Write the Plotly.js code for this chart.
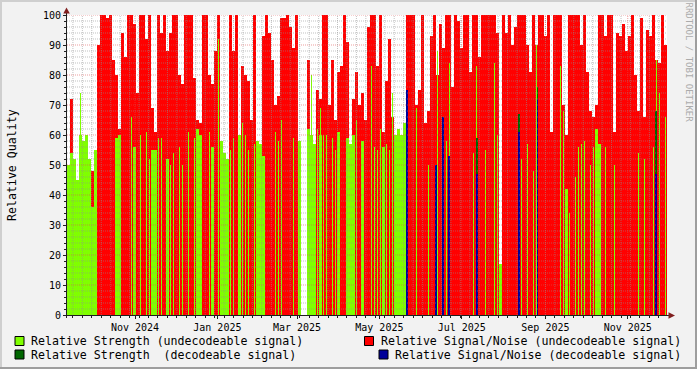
<!DOCTYPE html>
<html><head><meta charset="utf-8">
<script src="https://cdn.plot.ly/plotly-3.0.1.min.js"></script>
<style>html,body{margin:0;padding:0;background:#f2f2f2;}#chart{width:697px;height:369px;}</style>
</head><body><div id="chart"></div>
<script>
// ---- data (each bin = ~2.22 days, starting 2024-09-11 15:00) ----
const binStart = Date.UTC(2024, 8, 11, 15, 0);
const binDays = 2.2222;

// Relative Signal/Noise (undecodeable signal)
const snUndec = [
 0,72,0,0,0,0,0,0,48,0, 90,100,100,99,100,85,80,62,94,86,
 100,100,97,74,100,100,92,100,69,61, 100,94,100,88,94,100,100,80,77,100,
 100,100,79,65,64,100,100,80,77,88, 100,0,0,0,100,88,100,0,83,80,
 78,65,100,0,0,93,100,94,85,70, 73,99,99,100,96,89,100,0,null,null,
 85,0,0,75,72,100,100,70,85,65, 81,83,100,91,0,72,81,70,74,65,
 96,100,100,83,100,61,78,92,66,0, 0,0,0,100,100,100,70,75,100,64,
 68,93,100,80,97,89,100,100,76,100, 98,89,100,100,81,100,100,86,100,100,
 100,100,100,94,0,100,94,100,90,96, 100,100,100,90,81,100,90,100,100,93,
 100,61,100,100,100,70,60,100,100,100, 100,90,100,81,68,66,70,100,100,93,
 100,100,61,94,93,97,88,93,100,80, 68,99,66,95,93,100,85,84,100,90
];
// Relative Strength (undecodeable signal) – full-width part
const strengthUndec = [
 50,54,52,45,60,58,60,52,36,55, 0,0,0,0,0,0,59,60,0,0,
 0,0,56,0,0,0,0,0,55,55, 0,0,0,52,0,0,0,0,0,0,
 0,0,0,62,60,0,0,0,56,0, 0,58,54,52,0,0,0,60,0,0,
 0,0,0,58,57,53,0,0,0,0, 0,0,0,0,0,0,0,58,null,null,
 62,60,57,0,60,0,0,0,0,0, 61,0,0,59,57,60,0,0,58,0,
 0,0,0,0,0,56,0,0,0,60, 62,60,64,0,0,0,0,0,0,0,
 0,0,0,0,0,0,0,0,0,0, 0,0,0,0,0,0,0,0,0,0,
 0,0,0,0,17,0,0,0,0,0, 0,0,0,0,0,0,0,0,0,0,
 0,0,0,0,0,0,42,0,0,0, 0,0,0,0,0,0,62,57,0,0,
 0,0,0,0,0,0,0,0,0,0, 0,0,0,0,0,0,0,0,0,0
];
// Relative Strength (undecodeable signal) – thin single-sample columns
const strengthLines = [
 0,0,0,0,74,0,0,0,0,0, 0,0,0,0,0,0,0,0,0,0,
 0,66,0,0,60,0,61,52,0,0, 59,59,0,0,50,54,0,56,50,0,
 61,0,59,0,0,0,0,61,0,0, 92,0,0,0,55,59,0,0,64,60,
 55,0,57,0,0,0,0,0,0,61, 58,65,0,0,0,59,0,0,null,null,
 0,80,0,62,69,60,60,0,59,55, 0,0,0,0,0,0,65,0,0,0,
 0,83,56,55,62,0,57,55,74,0, 0,0,0,0,0,0,69,0,0,0,
 50,0,0,88,0,0,58,84,0,0, 0,0,0,0,0,54,83,0,0,55,
 0,0,84,60,0,0,0,0,0,0, 0,52,0,57,0,48,90,0,0,0,
 0,0,0,0,83,68,0,34,0,46, 56,57,58,0,50,56,0,0,0,56,
 0,0,50,0,0,0,0,0,0,0, 54,0,52,0,0,56,85,74,0,66
];
// decodeable samples
const decDates = ['2025-05-21 12:00','2025-06-12 00:00','2025-06-17 00:00','2025-06-21 14:00',
                  '2025-07-12 07:00','2025-08-12 10:00','2025-08-26 00:00','2025-11-21 22:00'];
const snDec = [75, 50, 66, 53, 47, 61, 72, 47];
const strengthDec = [null, null, null, null, 59, 67, 76, 68];

const tickDates = ['2024-11-01','2025-01-01','2025-03-01','2025-05-01','2025-07-01','2025-09-01','2025-11-01'];
const tickLabels = ['Nov 2024','Jan 2025','Mar 2025','May 2025','Jul 2025','Sep 2025','Nov 2025'];
const yTicks = [0,10,20,30,40,50,60,70,80,90,100];

const legendLabels = ['Relative Strength (undecodeable signal)','Relative Signal/Noise (undecodeable signal)',
                      'Relative Strength  (decodeable signal)','Relative Signal/Noise (decodeable signal)'];

// ---- build ----
const DAY = 86400000;
const binMs = binDays * DAY;
const iso = t => new Date(t).toISOString().slice(0,19).replace('T',' ');
const binX = snUndec.map((_, i) => iso(binStart + (i + 0.5) * binMs));
const nz = a => a.map(v => (v === 0 ? null : v));
const xEnd = binStart + snUndec.length * binMs;

const FONT = 'DejaVu Sans Mono';
const C_GREEN = '#80ff00', C_RED = '#ff0000', C_DGREEN = '#006600', C_BLUE = '#000099';

const traces = [
  {type:'bar', x:binX, y:nz(snUndec), width:binMs, marker:{color:C_RED, line:{width:0}}, showlegend:false, hoverinfo:'skip'},
  {type:'bar', x:binX, y:nz(strengthUndec), width:binMs, marker:{color:C_GREEN, line:{width:0}}, showlegend:false, hoverinfo:'skip'},
  {type:'bar', x:binX, y:nz(strengthLines), width:1.2*DAY, marker:{color:C_GREEN, line:{width:0}}, showlegend:false, hoverinfo:'skip'},
  {type:'bar', x:decDates, y:strengthDec, width:1.2*DAY, marker:{color:C_DGREEN, line:{width:0}}, showlegend:false, hoverinfo:'skip'},
  {type:'bar', x:decDates, y:snDec, width:1.2*DAY, marker:{color:C_BLUE, line:{width:0}}, showlegend:false, hoverinfo:'skip'}
];

// pixel -> paper helpers (plot area: x 67..667, y 15..315)
const PX = x => (x - 67) / 600;
const PY = y => (315 - y) / 300;

const shapes = [];
const MINOR = 'rgba(143,143,143,0.55)', MAJOR = 'rgba(222,79,79,0.55)';
for (let v = 2; v < 100; v += 2) {
  shapes.push({type:'line', xref:'paper', yref:'y', x0:0, x1:1, y0:v, y1:v, layer:'above',
    line:{color: v % 10 === 0 ? MAJOR : MINOR, width:1, dash:'1px,1px'}});
}
shapes.push({type:'line', xref:'paper', yref:'y', x0:0, x1:1, y0:100, y1:100, layer:'above', line:{color:MAJOR, width:1, dash:'1px,1px'}});
// weekly minor vertical grid (Mondays)
for (let t = Date.UTC(2024, 8, 16); t < xEnd; t += 7 * DAY) {
  shapes.push({type:'line', xref:'x', yref:'paper', x0:iso(t), x1:iso(t), y0:0, y1:1, layer:'above',
    line:{color:MINOR, width:1, dash:'1px,1px'}});
}
tickDates.forEach(d => shapes.push({type:'line', xref:'x', yref:'paper', x0:d, x1:d, y0:0, y1:1, layer:'above',
  line:{color:MAJOR, width:1, dash:'1px,1px'}}));

// axes + arrows
const AX = '#1f1f1f', ARROW = '#801f1f';
shapes.push({type:'line', xref:'paper', yref:'paper', x0:PX(66.5), x1:PX(66.5), y0:PY(318), y1:PY(11), layer:'above', line:{color:AX, width:1}});
shapes.push({type:'line', xref:'paper', yref:'paper', x0:PX(64), x1:PX(669), y0:PY(315.5), y1:PY(315.5), layer:'above', line:{color:AX, width:1}});
shapes.push({type:'path', xref:'paper', yref:'paper', layer:'above', fillcolor:ARROW, line:{width:0},
  path:`M${PX(63.3)},${PY(13.5)} L${PX(69.8)},${PY(13.5)} L${PX(66.5)},${PY(7.5)} Z`});
shapes.push({type:'path', xref:'paper', yref:'paper', layer:'above', fillcolor:ARROW, line:{width:0},
  path:`M${PX(668.5)},${PY(312.3)} L${PX(668.5)},${PY(318.7)} L${PX(675)},${PY(315.5)} Z`});

// image frame shading
shapes.push({type:'rect', xref:'paper', yref:'paper', x0:PX(0), x1:PX(697), y0:PY(0), y1:PY(2), fillcolor:'#cfcfcf', line:{width:0}, layer:'below'});
shapes.push({type:'rect', xref:'paper', yref:'paper', x0:PX(0), x1:PX(2), y0:PY(0), y1:PY(369), fillcolor:'#cfcfcf', line:{width:0}, layer:'below'});
shapes.push({type:'rect', xref:'paper', yref:'paper', x0:PX(0), x1:PX(697), y0:PY(367), y1:PY(369), fillcolor:'#9e9e9e', line:{width:0}, layer:'below'});
shapes.push({type:'rect', xref:'paper', yref:'paper', x0:PX(695), x1:PX(697), y0:PY(0), y1:PY(369), fillcolor:'#9e9e9e', line:{width:0}, layer:'below'});

// legend
const legendItems = [
  {c:C_GREEN, bx:15, by:336.5, tx:30, ty:341},
  {c:C_RED, bx:364.5, by:336.5, tx:380, ty:341},
  {c:C_DGREEN, bx:15, by:350, tx:30, ty:354.5},
  {c:C_BLUE, bx:379, by:350, tx:394, ty:354.5}
];
const annotations = [];
legendItems.forEach((it, i) => {
  shapes.push({type:'rect', xref:'paper', yref:'paper', x0:PX(it.bx), x1:PX(it.bx + 9), y0:PY(it.by + 9), y1:PY(it.by),
    fillcolor:it.c, line:{color:'#000', width:1}});
  annotations.push({xref:'paper', yref:'paper', x:PX(it.tx), y:PY(it.ty), xanchor:'left', yanchor:'middle',
    text:legendLabels[i], showarrow:false, borderpad:0, font:{family:FONT, size:11.6, color:'#000'}});
});
annotations.push({xref:'paper', yref:'paper', x:PX(12), y:PY(165), xanchor:'center', yanchor:'middle', textangle:-90,
  text:'Relative Quality', showarrow:false, borderpad:0, font:{family:FONT, size:11.6, color:'#000'}});
annotations.push({xref:'paper', yref:'paper', x:PX(688.5), y:PY(62), xanchor:'center', yanchor:'middle', textangle:90,
  text:'RRDTOOL / TOBI OETIKER', showarrow:false, borderpad:0, font:{family:FONT, size:9, color:'#ababab'}});

const layout = {
  width:697, height:369, autosize:false,
  margin:{l:67, r:30, t:15, b:54, pad:0},
  paper_bgcolor:'#f2f2f2', plot_bgcolor:'#ffffff',
  barmode:'overlay', bargap:0, showlegend:false,
  xaxis:{type:'date', range:[iso(binStart), iso(xEnd)], tickvals:tickDates, ticktext:tickLabels,
    ticks:'outside', ticklen:3, tickcolor:AX, showgrid:false, zeroline:false, showline:false,
    tickfont:{family:FONT, size:10, color:'#000'},
    minor:{ticks:'outside', ticklen:2, tickcolor:AX, dtick:7*DAY, tick0:'2024-09-16', showgrid:false}},
  yaxis:{range:[0,100], tickvals:yTicks, ticks:'outside', ticklen:3, tickcolor:AX, showgrid:false, zeroline:false, showline:false,
    tickfont:{family:FONT, size:10, color:'#000'},
    minor:{ticks:'outside', ticklen:2, tickcolor:AX, dtick:2, showgrid:false}},
  shapes:shapes, annotations:annotations
};
Plotly.newPlot('chart', traces, layout, {displayModeBar:false, staticPlot:true});
</script></body></html>
